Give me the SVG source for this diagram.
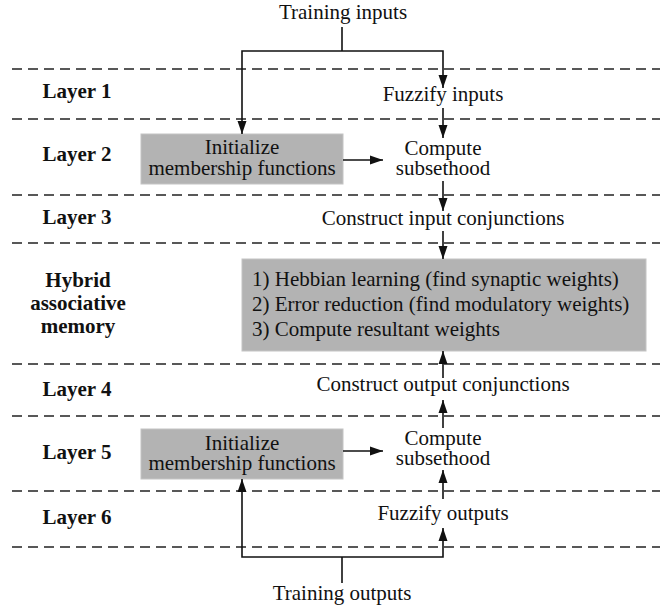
<svg xmlns="http://www.w3.org/2000/svg" width="660" height="610" viewBox="0 0 660 610">
<defs>
<marker id="ah" markerUnits="userSpaceOnUse" markerWidth="14" markerHeight="10" refX="13" refY="5" orient="auto">
<path d="M0,0.5 L13,5 L0,9.5 Z" fill="#111"/>
</marker>
</defs>
<rect width="660" height="610" fill="#fff"/>
<g id="dashed-lines" stroke="#222" stroke-width="1.6" stroke-dasharray="10 6" fill="none">
<line x1="12" y1="69" x2="660" y2="69"/>
<line x1="12" y1="119" x2="660" y2="119"/>
<line x1="12" y1="195" x2="660" y2="195"/>
<line x1="12" y1="243" x2="660" y2="243"/>
<line x1="12" y1="364" x2="660" y2="364"/>
<line x1="12" y1="416" x2="660" y2="416"/>
<line x1="12" y1="491" x2="660" y2="491"/>
<line x1="12" y1="547" x2="660" y2="547"/>
</g>
<g id="layer-labels" font-weight="bold" font-size="21" fill="#111" text-anchor="middle">
<text font-family="Liberation Serif" x="77" y="98">Layer 1</text>
<text font-family="Liberation Serif" x="77" y="161">Layer 2</text>
<text font-family="Liberation Serif" x="77" y="224">Layer 3</text>
<text font-family="Liberation Serif" x="78" y="287">Hybrid</text>
<text font-family="Liberation Serif" x="78" y="310">associative</text>
<text font-family="Liberation Serif" x="78" y="333">memory</text>
<text font-family="Liberation Serif" x="77" y="396">Layer 4</text>
<text font-family="Liberation Serif" x="77" y="459">Layer 5</text>
<text font-family="Liberation Serif" x="77" y="524">Layer 6</text>
</g>
<g id="nodes" font-size="21" fill="#111" text-anchor="middle">
<g id="training-inputs"><text font-family="Liberation Serif" x="343" y="19">Training inputs</text></g>
<g id="fuzzify-inputs"><text font-family="Liberation Serif" x="443" y="101">Fuzzify inputs</text></g>
<g id="init-mf-1">
<rect x="141" y="134" width="202" height="50" fill="#b3b3b3" stroke="#c4c4c4" stroke-width="1"/>
<text font-family="Liberation Serif" x="242" y="154">Initialize</text>
<text font-family="Liberation Serif" x="242" y="175">membership functions</text>
</g>
<g id="subsethood-1">
<text font-family="Liberation Serif" x="443" y="155">Compute</text>
<text font-family="Liberation Serif" x="443" y="175">subsethood</text>
</g>
<g id="input-conj"><text font-family="Liberation Serif" x="443" y="225">Construct input conjunctions</text></g>
<g id="ham">
<rect x="242" y="259" width="404" height="92" fill="#b3b3b3" stroke="#c4c4c4" stroke-width="1"/>
<text font-family="Liberation Serif" text-anchor="start" x="252" y="286">1) Hebbian learning (find synaptic weights)</text>
<text font-family="Liberation Serif" text-anchor="start" x="252" y="311">2) Error reduction (find modulatory weights)</text>
<text font-family="Liberation Serif" text-anchor="start" x="252" y="336">3) Compute resultant weights</text>
</g>
<g id="output-conj"><text font-family="Liberation Serif" x="443" y="391">Construct output conjunctions</text></g>
<g id="init-mf-2">
<rect x="141" y="429" width="202" height="50" fill="#b3b3b3" stroke="#c4c4c4" stroke-width="1"/>
<text font-family="Liberation Serif" x="242" y="450">Initialize</text>
<text font-family="Liberation Serif" x="242" y="470">membership functions</text>
</g>
<g id="subsethood-2">
<text font-family="Liberation Serif" x="443" y="445">Compute</text>
<text font-family="Liberation Serif" x="443" y="465">subsethood</text>
</g>
<g id="fuzzify-outputs"><text font-family="Liberation Serif" x="443" y="520">Fuzzify outputs</text></g>
<g id="training-outputs"><text font-family="Liberation Serif" x="342" y="600">Training outputs</text></g>
</g>
<g id="connectors" stroke="#111" stroke-width="1.6" fill="none">
<polyline points="342,27 342,51"/>
<polyline marker-end="url(#ah)" points="342,51 242,51 242,134"/>
<polyline marker-end="url(#ah)" points="342,51 443,51 443,88"/>
<line marker-end="url(#ah)" x1="443" y1="108" x2="443" y2="138"/>
<line marker-end="url(#ah)" x1="343" y1="160" x2="383" y2="160"/>
<line marker-end="url(#ah)" x1="443" y1="181" x2="443" y2="211"/>
<line marker-end="url(#ah)" x1="443" y1="231" x2="443" y2="259"/>
<line marker-end="url(#ah)" x1="443" y1="378" x2="443" y2="351"/>
<line marker-end="url(#ah)" x1="443" y1="428" x2="443" y2="400"/>
<line marker-end="url(#ah)" x1="343" y1="451" x2="383" y2="451"/>
<line marker-end="url(#ah)" x1="443" y1="499" x2="443" y2="470"/>
<polyline marker-end="url(#ah)" points="342,557 443,557 443,528"/>
<polyline marker-end="url(#ah)" points="342,557 242,557 242,479"/>
<line x1="342" y1="557" x2="342" y2="583"/>
</g>
</svg>
